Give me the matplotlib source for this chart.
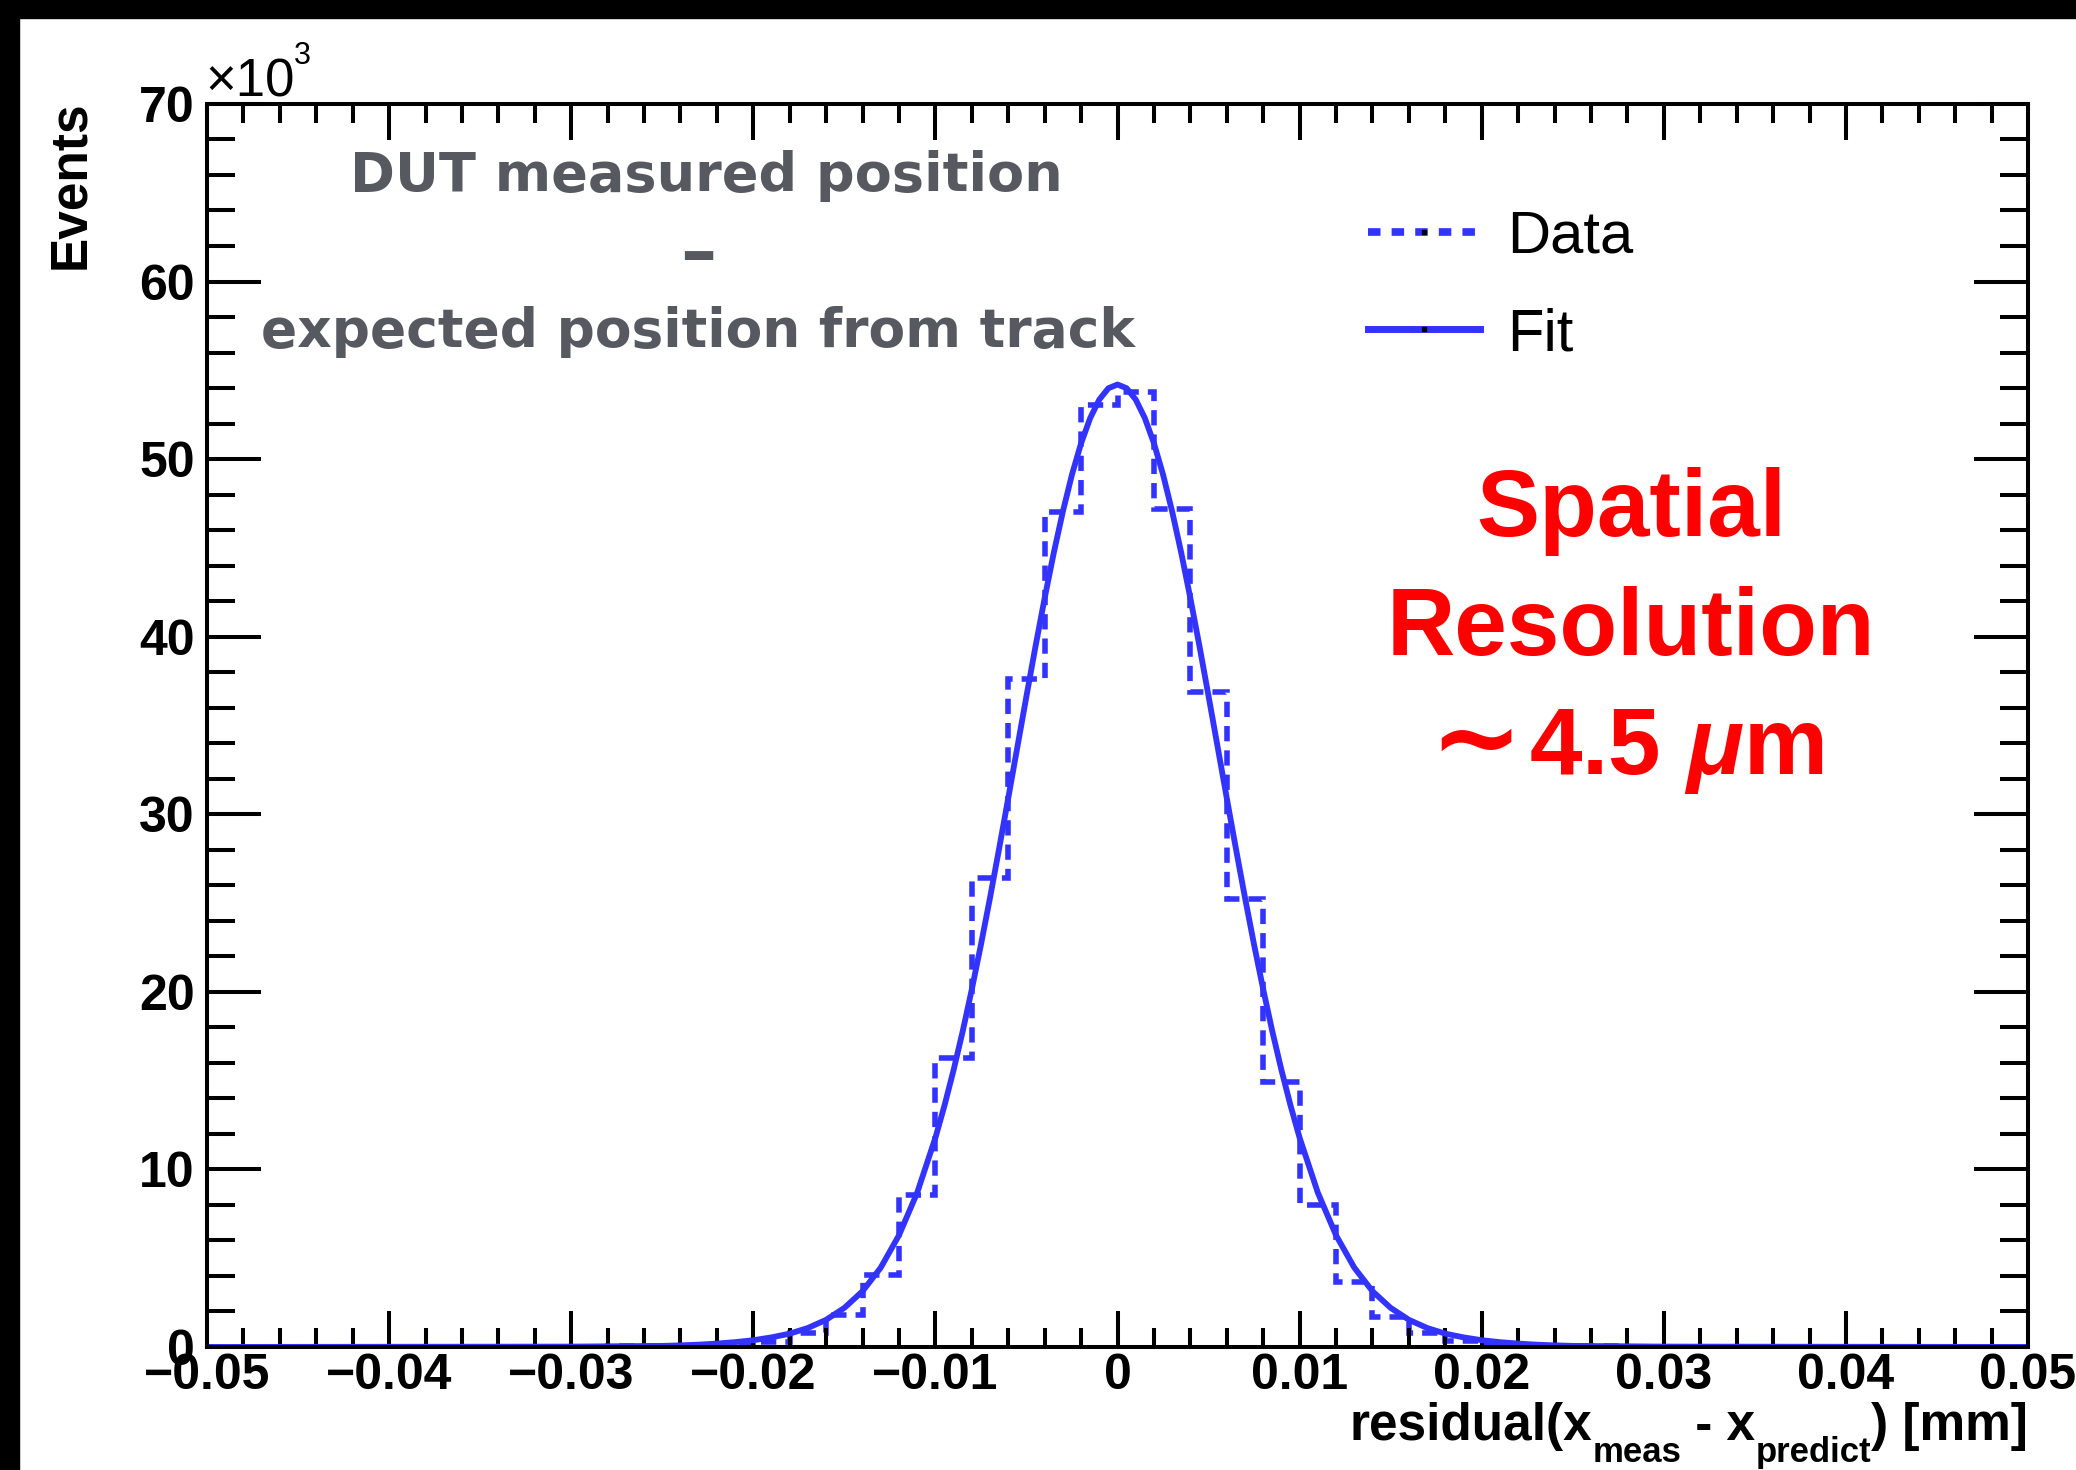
import numpy as np
import matplotlib
matplotlib.use('Agg')
import matplotlib.pyplot as plt
from matplotlib.lines import Line2D
from matplotlib.patches import Rectangle
from matplotlib.ticker import MultipleLocator
from matplotlib.transforms import offset_copy

plt.rcParams['font.family'] = ['Liberation Sans', 'DejaVu Sans']
plt.rcParams['mathtext.fontset'] = 'custom'
plt.rcParams['mathtext.rm'] = 'Liberation Sans:bold'
plt.rcParams['mathtext.it'] = 'Liberation Sans:bold:italic'
plt.rcParams['mathtext.bf'] = 'Liberation Sans:bold'
plt.rcParams['lines.scale_dashes'] = False

# residual histogram: 50 bins of 0.002 mm between -0.05 and 0.05, events in 10^3
edges = np.linspace(-0.05, 0.05, 51)
counts = [0, 0, 0, 0, 0, 0, 0, 0, 0, 0,
          0.02, 0.03, 0.05, 0.08, 0.15, 0.30, 0.80, 1.80, 4.05, 8.56,
          16.3, 26.4, 37.6, 47.0, 53.05, 53.8, 47.2, 36.9, 25.2, 14.9,
          8.0, 3.66, 1.7, 0.8, 0.35, 0.15, 0.08, 0.05, 0.03, 0.02,
          0, 0, 0, 0, 0, 0, 0, 0, 0, 0]

# fit curve (x in mm, y in 10^3 events)
fit_x = [-0.05, -0.03,
         -0.025, -0.024, -0.023, -0.022, -0.021, -0.020, -0.019, -0.018,
         -0.017, -0.016, -0.015, -0.014, -0.013, -0.012, -0.011,
         -0.010, -0.0095, -0.009, -0.0085, -0.008, -0.0075, -0.007, -0.0065,
         -0.006, -0.0055, -0.005, -0.0045, -0.004, -0.0035, -0.003, -0.0025,
         -0.002, -0.0015, -0.001, -0.0005, 0.0,
         0.0005, 0.001, 0.0015, 0.002, 0.0025, 0.003, 0.0035, 0.004,
         0.0045, 0.005, 0.0055, 0.006, 0.0065, 0.007, 0.0075, 0.008,
         0.0085, 0.009, 0.0095, 0.010,
         0.011, 0.012, 0.013, 0.014, 0.015, 0.016, 0.017, 0.018,
         0.019, 0.020, 0.021, 0.022, 0.023, 0.024, 0.025,
         0.03, 0.05]
fit_y = [0.0, 0.02,
         0.06, 0.09, 0.13, 0.19, 0.27, 0.38, 0.54, 0.75,
         1.07, 1.53, 2.20, 3.14, 4.47, 6.29, 8.69,
         11.78, 13.60, 15.60, 17.78, 20.14, 22.65, 25.30, 28.07,
         30.91, 33.78, 36.65, 39.47, 42.17, 44.72, 47.05, 49.13,
         50.89, 52.31, 53.35, 53.99, 54.20,
         53.99, 53.35, 52.31, 50.89, 49.13, 47.05, 44.72, 42.17,
         39.47, 36.65, 33.78, 30.91, 28.07, 25.30, 22.65, 20.14,
         17.78, 15.60, 13.60, 11.78,
         8.69, 6.29, 4.47, 3.14, 2.20, 1.53, 1.07, 0.75,
         0.54, 0.38, 0.27, 0.19, 0.13, 0.09, 0.06,
         0.02, 0.0]

x_ticks = [-0.05, -0.04, -0.03, -0.02, -0.01, 0.0, 0.01, 0.02, 0.03, 0.04, 0.05]
x_tick_labels = ['\u22120.05', '\u22120.04', '\u22120.03', '\u22120.02', '\u22120.01',
                 '0', '0.01', '0.02', '0.03', '0.04', '0.05']
y_ticks = [0, 10, 20, 30, 40, 50, 60, 70]
y_tick_labels = ['0', '10', '20', '30', '40', '50', '60', '70']

blue = '#3333ff'
gray = '#565a60'
red = '#ff0000'
dash = (0, (11, 6.5))

fig = plt.figure(figsize=(20.76, 14.70), dpi=100)
ax = fig.add_axes([0.0997, 0.0837, 0.8772, 0.8456])

ax.stairs(counts, edges, color=blue, linewidth=4.0, linestyle=dash)
ax.plot(fit_x, fit_y, color=blue, linewidth=4.2, solid_joinstyle='round')

ax.set_xlim(-0.05, 0.05)
ax.set_ylim(0, 70)
ax.set_xticks(x_ticks)
ax.set_xticklabels(x_tick_labels)
ax.set_yticks(y_ticks)
ax.set_yticklabels(y_tick_labels)
ax.xaxis.set_minor_locator(MultipleLocator(0.002))
ax.yaxis.set_minor_locator(MultipleLocator(2))

ax.tick_params(which='both', direction='in', top=True, right=True, width=2.9)
ax.tick_params(axis='x', which='major', length=26, pad=4)
ax.tick_params(axis='x', which='minor', length=14)
ax.tick_params(axis='y', which='major', length=39, pad=9)
ax.tick_params(axis='y', which='minor', length=20)
for lbl in ax.get_xticklabels() + ax.get_yticklabels():
    lbl.set_fontsize(36)
    lbl.set_fontweight('bold')
for sp in ax.spines.values():
    sp.set_linewidth(2.9)

# y title, ROOT style (top aligned)
ax.text(-0.0747, 1.003, 'Events', rotation=90, ha='center', va='top',
        fontsize=37, fontweight='bold', transform=ax.transAxes)

# x title with low subscripts, built piece by piece and right aligned
renderer = fig.canvas.get_renderer()
xlabel_parts = [('residual(x', 37, 0), ('meas', 25, -16), (' - x', 37, 0),
                ('predict', 25, -16), (') [mm]', 37, 0)]
pieces = []
for s, size, dy in xlabel_parts:
    t = ax.text(1.0, -0.0748, s, ha='left', va='baseline', fontsize=size,
                fontweight='bold', transform=ax.transAxes)
    pieces.append((t, t.get_window_extent(renderer).width * 72 / fig.dpi, dy))
total = sum(w for _, w, _ in pieces)
xoff = -total
for t, w, dy in pieces:
    t.set_transform(offset_copy(ax.transAxes, fig=fig, x=xoff, y=dy, units='points'))
    xoff += w

# x10^3 multiplier
ax.text(-0.001, 1.0056, '\u00d710', ha='left', va='baseline', fontsize=38,
        transform=ax.transAxes)
ax.text(0.0475, 1.032, '3', ha='left', va='baseline', fontsize=22,
        transform=ax.transAxes)

# annotation
ax.text(0.274, 0.930, 'DUT measured position', ha='center', va='baseline',
        fontsize=39, fontweight='bold', color=gray, family='DejaVu Sans',
        transform=ax.transAxes)
ax.text(0.2696, 0.862, '\u2013', ha='center', va='baseline',
        fontsize=52, fontweight='bold', color=gray, family='DejaVu Sans',
        transform=ax.transAxes)
ax.text(0.2696, 0.8047, 'expected position from track', ha='center', va='baseline',
        fontsize=38.5, fontweight='bold', color=gray, family='DejaVu Sans',
        transform=ax.transAxes)

ax.text(0.782, 0.6525, 'Spatial', ha='center', va='baseline', fontsize=68,
        fontweight='bold', color=red, transform=ax.transAxes)
ax.text(0.782, 0.5567, 'Resolution', ha='center', va='baseline', fontsize=68,
        fontweight='bold', color=red, transform=ax.transAxes)
ax.text(0.7225, 0.4606, '\u223c', ha='right', va='baseline', fontsize=80,
        fontweight='bold', color=red, family='DejaVu Sans', transform=ax.transAxes)
ax.text(0.726, 0.4606, r'4.5 $\mu$m', ha='left', va='baseline', fontsize=68,
        fontweight='bold', color=red, transform=ax.transAxes)

handles = [Line2D([], [], color=blue, linewidth=5.5, linestyle=(0, (9, 8)),
                  marker='s', markersize=3, markerfacecolor='black', markeredgecolor='black'),
           Line2D([], [], color=blue, linewidth=5,
                  marker='s', markersize=3, markerfacecolor='black', markeredgecolor='black')]
ax.legend(handles, ['Data', 'Fit'], loc='upper left', bbox_to_anchor=(0.6376, 0.9147),
          frameon=False, fontsize=43, handlelength=1.876, handletextpad=0.45,
          labelspacing=0.71, borderpad=0, borderaxespad=0, numpoints=1)

# black strips on the screenshot edges
fig.add_artist(Rectangle((0, 1 - 18 / 1470), 1, 18 / 1470, transform=fig.transFigure,
                         color='black', zorder=10))
fig.add_artist(Rectangle((0, 0), 19 / 2076, 1, transform=fig.transFigure,
                         color='black', zorder=10))

fig.savefig('out.png', dpi=100, facecolor='white')
